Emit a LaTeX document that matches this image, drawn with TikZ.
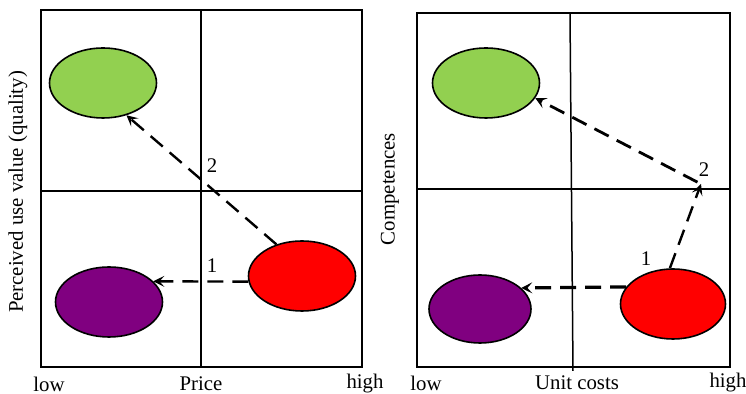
\documentclass[tikz,border=0pt]{standalone}
\usepackage{fontspec}
\setmainfont{Liberation Serif}
\usetikzlibrary{arrows.meta,shapes.geometric}

\begin{document}
\begin{tikzpicture}[x=0.5pt,y=-0.5pt,>={Stealth[length=5.5pt,width=5.5pt,inset=2.4pt]},
  font=\fontsize{10.4}{12}\selectfont,
  blob/.style={draw,ellipse,line width=0.8pt,minimum width=53.5pt,minimum height=35pt,inner sep=0pt},
  move/.style={->,dash pattern=on 8pt off 4.5pt,line width=1.2pt},
  frame/.style={line width=1pt},
  split/.style={line width=0.75pt}]
\useasboundingbox (0,0) rectangle (746,394);
% left panel: price vs perceived use value
\draw[frame] (41,10) rectangle (362,367);
\draw[split] (201,10) -- (201,366);
\draw[split] (41,191) -- (362,191);
\node[blob,fill={rgb,255:red,146;green,208;blue,80}] (grn1) at (103,83) {};
\node[blob,fill={rgb,255:red,128;green,0;blue,128}] (pur1) at (109,302) {};
\node[blob,fill=red] (red1) at (302,276) {};
\draw[move] (red1.186) -- (pur1.25);
\draw[move] (red1.129) -- (grn1.-54);
\node (n1a) at (212,266) {1};
\node (n2a) at (212,166) {2};
\node (lowa) at (49,384) {low};
\node (pricea) at (201,384) {Price};
\node (higha) at (365,384) {high};
\node[rotate=90] (ya) at (18,192) {Perceived use value (quality)};
% right panel: unit costs vs competences
\draw[frame] (417,13) rectangle (730,367);
\draw[split] (570,13) -- (573,371);
\draw[split] (417,189) -- (730,189);
\node[blob,fill={rgb,255:red,146;green,208;blue,80}] (grn2) at (486,83) {};
\node[blob,fill={rgb,255:red,128;green,0;blue,128},minimum width=51pt,minimum height=34pt] (pur2) at (480,309) {};
\node[blob,fill=red,minimum width=52.5pt] (red2) at (673,304) {};
\coordinate (turn) at (701,184);
\draw[move,line width=1.6pt] (red2.160) -- (pur2.27);
\draw[move] (red2.95) -- (turn);
\draw[move,line width=1.4pt,shorten <=2pt] (turn) -- (grn2.-17);
\node (n1b) at (646,259) {1};
\node (n2b) at (704,170) {2};
\node (lowb) at (426,383) {low};
\node (costb) at (577,383) {Unit costs};
\node (highb) at (728,383) {high};
\node[rotate=90] (yb) at (390,189) {Competences};
\end{tikzpicture}
\end{document}
